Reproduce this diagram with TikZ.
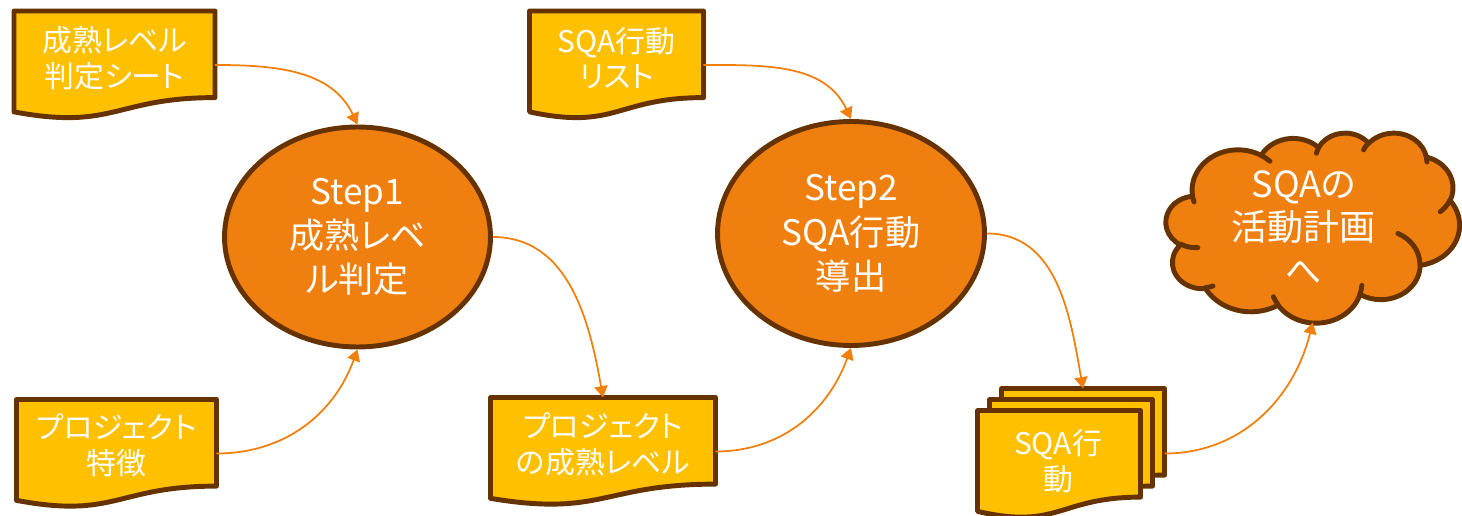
\documentclass[tikz,border=0pt]{standalone}
\usepackage{fontspec}
\setmainfont{Noto Sans CJK JP}[RawFeature=+palt]
\usetikzlibrary{arrows.meta,shapes.geometric}

\definecolor{docfill}{HTML}{FFC000}
\definecolor{edge}{HTML}{663300}
\definecolor{stepfill}{HTML}{EF8010}
\definecolor{flow}{HTML}{F07F0C}

% flowchart "document" outline: top-left x, top-left y (downwards), width, height
\newcommand\docshape[4]{%
  \filldraw[docbody] (#1,-#2) -- ({#1+#3},-#2) -- ({#1+#3},{-(#2+0.802*#4)})
    .. controls ({#1+0.5*#3},{-(#2+0.802*#4)}) and ({#1+0.5*#3},{-(#2+1.1075*#4)})
    .. (#1,{-(#2+0.934*#4)}) -- cycle;}

% elliptic arc given by radii and visual start/sweep angles
\newcommand\defpuff[5]{%
  \pgfmathparse{atan2((#2)*sin(#4),(#3)*cos(#4))}\let\cldS\pgfmathresult
  \pgfmathparse{atan2((#2)*sin((#4)+(#5)),(#3)*cos((#4)+(#5)))}\let\cldE\pgfmathresult
  \pgfmathparse{(\cldE)+360*round(((\cldS)+(#5)-(\cldE))/360)}\let\cldE\pgfmathresult
  \edef#1{arc[start angle=\cldS, end angle=\cldE, x radius=#2*0.02cm, y radius=#3*0.02cm]}}

% cloud outline
\defpuff\cloudA{67.53}{91.90}{-190.4875}{123.7805}
\defpuff\cloudB{53.33}{72.67}{-144.1024}{89.9452}
\defpuff\cloudC{43.65}{59.45}{-145.8079}{99.7230}
\defpuff\cloudD{48.57}{65.95}{-130.9861}{117.2417}
\defpuff\cloudE{53.33}{72.73}{-78.7089}{109.0269}
\defpuff\cloudF{67.75}{92.20}{-46.2673}{130.2690}
\defpuff\cloudG{57.85}{78.67}{0.6250}{114.0333}
\defpuff\cloudH{67.52}{92.15}{22.4516}{115.1726}
\defpuff\cloudI{77.20}{105.43}{66.2426}{75.7110}
\defpuff\cloudJ{43.60}{59.18}{-274.9421}{146.7356}
\defpuff\cloudK{43.45}{59.45}{-246.8285}{152.5189}
% inner puff strokes
\defpuff\puffA{43.45}{59.45}{86.7420}{26.4295}
\defpuff\puffB{43.60}{59.18}{73.6105}{11.4475}
\defpuff\puffC{67.52}{92.15}{137.6242}{14.0811}
\defpuff\puffD{67.52}{92.15}{6.4533}{15.9984}
\defpuff\puffE{57.85}{78.67}{-70.2924}{70.9174}
\defpuff\puffF{53.33}{72.73}{30.3180}{27.7515}
\defpuff\puffG{48.57}{65.95}{-13.7443}{14.8589}
\defpuff\puffH{48.57}{65.95}{-149.1815}{18.1954}
\defpuff\puffI{43.65}{59.45}{-163.4943}{17.6864}
\defpuff\puffJ{67.53}{91.90}{-66.7070}{12.3194}
\defpuff\puffK{67.53}{91.90}{157.6544}{11.8582}

\tikzset{
  docbody/.style={fill=docfill, draw=edge, line width=2.8pt, line join=round},
  docbox/.style={rectangle, inner sep=0pt, outer sep=0pt, minimum height=2.16cm},
  doctext/.style={text=white, align=center, inner sep=0pt,
    font=\fontsize{17}{20.4}\selectfont},
  stepnode/.style={ellipse, fill=stepfill, draw=edge, line width=2.8pt,
    text=white, align=center, inner sep=0pt,
    font=\fontsize{20}{25.2}\selectfont},
  cloudbody/.style={fill=stepfill, draw=edge, line width=2.8pt, line join=round},
  cloudstroke/.style={draw=edge, line width=2.8pt, line cap=round},
  cloudtext/.style={text=white, align=center, inner sep=0pt,
    font=\fontsize{20.5}{24.7}\selectfont},
  flowline/.style={draw=flow, line width=1pt,
    -{Triangle[length=6.5pt,width=7.5pt]}},
}

\begin{document}
\begin{tikzpicture}[x=0.02cm, y=0.02cm]
\useasboundingbox (0,0) rectangle (1462,-516);

% input and output documents
\docshape{14}{11}{201}{108}
\docshape{16.5}{399.5}{200}{108}
\docshape{529.5}{11}{174}{108}
\docshape{490.5}{397.5}{225}{108}
% stacked documents
\docshape{1001.5}{388.5}{163}{108}
\docshape{989.5}{399.5}{163}{108}
\docshape{977.5}{410.5}{163}{108}

\node[docbox, minimum width=4.02cm,
  label={[doctext, yshift=0.14cm]center:{成熟レベル\\判定シート}}] (d1) at (114.5,-65) {};
\node[docbox, minimum width=4.00cm,
  label={[doctext, yshift=0.16cm]center:{プロジェクト\\特徴}}] (d2) at (116.5,-453.5) {};
\node[docbox, minimum width=3.48cm,
  label={[doctext, yshift=0.14cm]center:{SQA行動\\リスト}}] (d3) at (616.5,-65) {};
\node[docbox, minimum width=4.50cm,
  label={[doctext, yshift=0.14cm]center:{プロジェクト\\の成熟レベル}}] (d4) at (603,-451.5) {};
\node[docbox, minimum width=3.26cm] (mdback) at (1083,-442.5) {};
\node[docbox, minimum width=3.74cm, minimum height=2.60cm,
  label={[doctext, xshift=-0.26cm, yshift=-0.15cm]center:{SQA行\\動}}] (md) at (1071,-453.5) {};

% process steps
\node[stepnode, minimum width=5.32cm, minimum height=4.40cm] (e1) at (357.5,-237)
  {Step1\\成熟レベ\\ル判定};
\node[stepnode, minimum width=5.34cm, minimum height=4.48cm] (e2) at (851,-233.5)
  {Step2\\SQA行動\\導出};

% cloud
\begin{scope}[shift={(1166,-132.5)}, xscale=0.6794, yscale=-0.4398]
  \filldraw[cloudbody] (39,143.70) \cloudA \cloudB \cloudC \cloudD \cloudE \cloudF
    \cloudG \cloudH \cloudI \cloudJ \cloudK -- cycle;
  \draw[cloudstroke] (46.93,261.77) \puffA (69.28,348.99) \puffB
    (164.78,390.90) \puffC (288.27,347.51) \puffD (341.29,229.54) \puffE
    (417.98,153.54) \puffF (383.24,54.26) \puffG (290.78,39.52) \puffH
    (221.41,47.20) \puffI (140.00,51.92) \puffJ (41.27,157.89) \puffK;
\end{scope}
\node[docbox, minimum width=5.87cm, minimum height=3.80cm,
  label={[cloudtext, xshift=-0.18cm]center:{SQAの\\活動計画\\へ}}] (cl) at (1312.75,-227.5) {};

% connectors
\draw[flowline] (d1.east) to[out=0, in=115] (e1.north);
\draw[flowline] (d2.east) to[out=0, in=-110] (e1.south);
\draw[flowline] (e1.east) to[out=0, in=100] (d4.north);
\draw[flowline] (d4.east) to[out=0, in=-110] (e2.south);
\draw[flowline] (d3.east) to[out=0, in=115] (e2.north);
\draw[flowline] (e2.east) to[out=0, in=100] (mdback.north);
\draw[flowline] (md.east) to[out=0, in=-104] (cl.south);
\end{tikzpicture}
\end{document}
